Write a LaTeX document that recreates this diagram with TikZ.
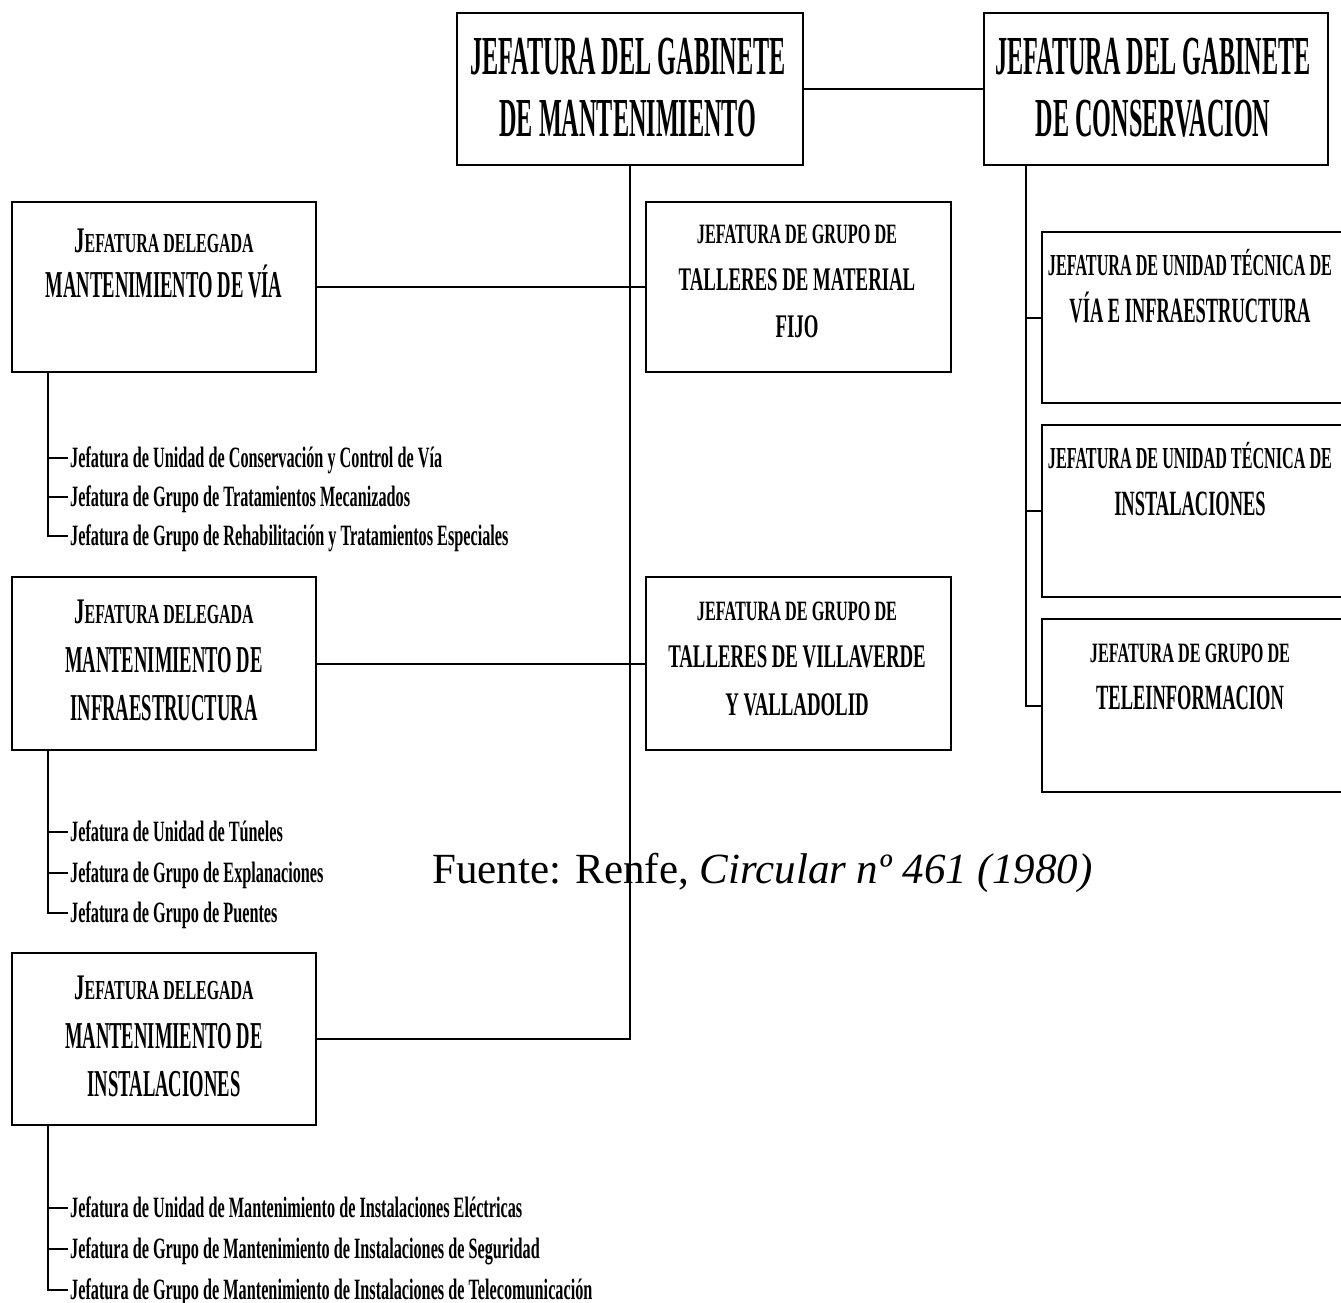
\documentclass[tikz,border=0pt]{standalone}
\usepackage{fontspec}
\setmainfont{Liberation Serif}
\usetikzlibrary{fit}
% bold text of a given size, squeezed horizontally
\newcommand\sqz[3]{\scalebox{#2}[1]{\fontsize{#1}{#1}\selectfont\bfseries #3}}
% small-caps style heading: large initial, smaller capitals
\newcommand\delegada{\sqz{27.5}{0.58}{{\fontsize{36}{36}\selectfont J}EFATURA DELEGADA}}

\begin{document}
\begin{tikzpicture}[x=1pt,y=-1pt,
  box/.style={draw, line width=2pt, inner sep=0pt},
  link/.style={line width=2pt},
  txt/.style={anchor=base, inner sep=0pt},
  item/.style={anchor=base west, inner sep=0pt}]

\fill[white] (0,0) rectangle (1341,1303);
\useasboundingbox (0,0) rectangle (1341,1303);
\clip (0,0) rectangle (1341,1303);

% ---- top level ----
\node[box, fit={(457,13) (803,165)}] (top) {};
\node[txt] (top1) at (628,75)  {\sqz{55}{0.44}{JEFATURA DEL GABINETE}};
\node[txt] (top2) at (628,137) {\sqz{55}{0.44}{DE MANTENIMIENTO}};

\node[box, fit={(984,13) (1328,165)}] (cons) {};
\node[txt] (cons1) at (1153,75)  {\sqz{55}{0.44}{JEFATURA DEL GABINETE}};
\node[txt] (cons2) at (1153,137) {\sqz{55}{0.44}{DE CONSERVACION}};

% ---- delegated heads (left column) ----
\node[box, fit={(12,202) (316,372)}] (b1) {};
\node[txt] (b1a) at (164,252) {\delegada};
\node[txt] (b1b) at (164,297) {\sqz{38}{0.49}{MANTENIMIENTO DE VÍA}};

\node[box, fit={(12,577) (316,750)}] (b2) {};
\node[txt] (b2a) at (164,623) {\delegada};
\node[txt] (b2b) at (164,672) {\sqz{38}{0.49}{MANTENIMIENTO DE}};
\node[txt] (b2c) at (164,720) {\sqz{38}{0.49}{INFRAESTRUCTURA}};

\node[box, fit={(12,953) (316,1125)}] (b3) {};
\node[txt] (b3a) at (164,999)  {\delegada};
\node[txt] (b3b) at (164,1048) {\sqz{38}{0.49}{MANTENIMIENTO DE}};
\node[txt] (b3c) at (164,1096) {\sqz{38}{0.49}{INSTALACIONES}};

% ---- workshop groups (middle column) ----
\node[box, fit={(646,202) (951,372)}] (m1) {};
\node[txt] (m1a) at (797,243) {\sqz{28}{0.58}{JEFATURA DE GRUPO DE}};
\node[txt] (m1b) at (797,290) {\sqz{33}{0.57}{TALLERES DE MATERIAL}};
\node[txt] (m1c) at (797,337) {\sqz{33}{0.57}{FIJO}};

\node[box, fit={(646,577) (951,750)}] (m2) {};
\node[txt] (m2a) at (797,620) {\sqz{28}{0.58}{JEFATURA DE GRUPO DE}};
\node[txt] (m2b) at (797,667) {\sqz{33}{0.57}{TALLERES DE VILLAVERDE}};
\node[txt] (m2c) at (797,715) {\sqz{33}{0.57}{Y VALLADOLID}};

% ---- technical units (right column) ----
\node[box, fit={(1042,232) (1360,403)}] (r1) {};
\node[txt] (r1a) at (1190,275) {\sqz{30.5}{0.53}{JEFATURA DE UNIDAD TÉCNICA DE}};
\node[txt] (r1b) at (1190,322) {\sqz{35.5}{0.52}{VÍA E INFRAESTRUCTURA}};

\node[box, fit={(1042,425) (1360,597)}] (r2) {};
\node[txt] (r2a) at (1190,468) {\sqz{30.5}{0.53}{JEFATURA DE UNIDAD TÉCNICA DE}};
\node[txt] (r2b) at (1190,515) {\sqz{35.5}{0.52}{INSTALACIONES}};

\node[box, fit={(1042,619) (1360,792)}] (r3) {};
\node[txt] (r3a) at (1190,662) {\sqz{28}{0.58}{JEFATURA DE GRUPO DE}};
\node[txt] (r3b) at (1190,709) {\sqz{35.5}{0.52}{TELEINFORMACION}};

% ---- sub-units listed under each delegated head ----
\node[item] (i11) at (70,467) {\sqz{29.5}{0.55}{Jefatura de Unidad de Conservación y Control de Vía}};
\node[item] (i12) at (70,506) {\sqz{29.5}{0.55}{Jefatura de Grupo de Tratamientos Mecanizados}};
\node[item] (i13) at (70,545) {\sqz{29.5}{0.55}{Jefatura de Grupo de Rehabilitación y Tratamientos Especiales}};

\node[item] (i21) at (70,841) {\sqz{29.5}{0.55}{Jefatura de Unidad de Túneles}};
\node[item] (i22) at (70,882) {\sqz{29.5}{0.55}{Jefatura de Grupo de Explanaciones}};
\node[item] (i23) at (70,922) {\sqz{29.5}{0.55}{Jefatura de Grupo de Puentes}};

\node[item] (i31) at (70,1217) {\sqz{29.5}{0.55}{Jefatura de Unidad de Mantenimiento de Instalaciones Eléctricas}};
\node[item] (i32) at (70,1258) {\sqz{29.5}{0.55}{Jefatura de Grupo de Mantenimiento de Instalaciones de Seguridad}};
\node[item] (i33) at (70,1299) {\sqz{29.5}{0.55}{Jefatura de Grupo de Mantenimiento de Instalaciones de Telecomunicación}};

% ---- source note ----
\node[anchor=base west, inner sep=0pt] (src) at (432,883)
  {\fontsize{43}{43}\selectfont Fuente: Renfe, \textit{Circular nº 461 (1980)}};

% ---- connectors ----
\draw[link] (top.east) -- (cons.west);
\draw[link] (b3.east) -| (top.south);
\draw[link] (b1.east) -- (m1.west);
\draw[link] (b2.east) -- (m2.west);

\coordinate (rx) at (1026,0);
\draw[link] (rx |- cons.south) |- (r3.west);
\draw[link] (rx |- r1.west) -- (r1.west);
\draw[link] (rx |- r2.west) -- (r2.west);

\coordinate (lx) at (48,0);
\foreach \g/\b in {1/b1,2/b2,3/b3}{
  \foreach \k in {1,2,3}{
    \coordinate (k\g\k) at ([xshift=-2pt,yshift=9pt]i\g\k.base west);
  }
  \draw[link] (lx |- \b.south) |- (k\g3);
  \draw[link] (lx |- k\g1) -- (k\g1);
  \draw[link] (lx |- k\g2) -- (k\g2);
}
\end{tikzpicture}
\end{document}
